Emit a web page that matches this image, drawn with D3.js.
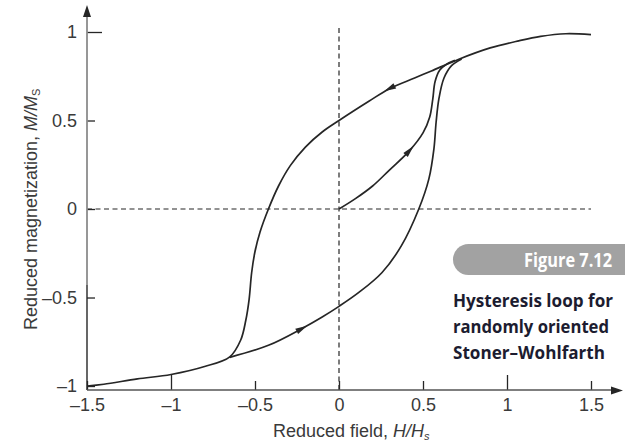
<!DOCTYPE html>
<html>
<head>
<meta charset="utf-8">
<script src="https://cdn.jsdelivr.net/npm/d3@7"></script>
<style>
  html, body { margin: 0; padding: 0; background: #fff; }
  svg { display: block; }
</style>
</head>
<body>
<svg id="chart" width="625" height="448"></svg>
<script>
// Reduced field H/Hs and reduced magnetization M/Ms along each branch of the loop.
// Descending branch: from positive saturation down to negative saturation.
const descendingBranch = [
  [1.5, 0.985], [1.35, 0.99], [1.2, 0.975], [1.07, 0.95], [0.9, 0.91],
  [0.71, 0.845], [0.55, 0.78], [0.45, 0.74], [0.3, 0.68], [0.18, 0.61],
  [0, 0.5], [-0.1, 0.435], [-0.2, 0.35], [-0.29, 0.245], [-0.36, 0.13],
  [-0.42, 0], [-0.47, -0.13], [-0.5, -0.24], [-0.52, -0.36], [-0.535, -0.51],
  [-0.555, -0.63], [-0.585, -0.74], [-0.65, -0.835], [-0.8, -0.89],
  [-1.0, -0.935], [-1.2, -0.96], [-1.4, -0.99], [-1.5, -1.0]
];
// Ascending branch: leaves the reversible part near -0.65 and rejoins near 0.73.
const ascendingBranch = [
  [-0.65, -0.838], [-0.42, -0.77], [-0.22, -0.675], [-0.1, -0.61], [0, -0.55],
  [0.12, -0.47], [0.255, -0.36], [0.37, -0.21], [0.475, 0], [0.535, 0.17],
  [0.565, 0.34], [0.578, 0.49], [0.595, 0.625], [0.625, 0.74], [0.67, 0.81],
  [0.73, 0.848]
];
// Initial magnetization curve from the demagnetized state.
const virginCurve = [
  [0, 0], [0.1, 0.06], [0.2, 0.13], [0.3, 0.22], [0.42, 0.33], [0.5, 0.43],
  [0.54, 0.52], [0.558, 0.62], [0.572, 0.72], [0.6, 0.785], [0.64, 0.818],
  [0.69, 0.84]
];

const xTicks = [-1.5, -1, -0.5, 0, 0.5, 1, 1.5];
const yTicks = [-1, -0.5, 0, 0.5, 1];

// Direction arrows: which branch, and the field value where the arrow sits.
const branchArrows = [
  { branch: "descending", H: 0.3 },
  { branch: "virgin", H: 0.42 },
  { branch: "ascending", H: -0.22 }
];

const captionTitle = "Figure 7.12";
const captionLines = ["Hysteresis loop for", "randomly oriented", "Stoner–Wohlfarth"];
const captionWidths = [160, 156, 152];

const svg = d3.select("#chart");
const ink = "#262626";
const labelInk = "#3a3a3a";
const sans = "'Liberation Sans', Arial, sans-serif";

const x = d3.scaleLinear().domain([-1.5, 1.5]).range([87, 591]);
const y = d3.scaleLinear().domain([-1.0225, 1]).range([390, 32]);

const fmt = d => (d < 0 ? "–" + Math.abs(d) : String(d));

// Dashed reference lines through the origin
svg.append("line")
  .attr("x1", x(-1.5)).attr("x2", x(1.5))
  .attr("y1", y(0)).attr("y2", y(0))
  .attr("stroke", ink).attr("stroke-width", 1.2)
  .attr("stroke-dasharray", "5,3.5");
svg.append("line")
  .attr("x1", x(0)).attr("x2", x(0))
  .attr("y1", y(-1.0225)).attr("y2", y(1.03))
  .attr("stroke", ink).attr("stroke-width", 1.2)
  .attr("stroke-dasharray", "5,3.5");

// X axis
const xAxis = svg.append("g")
  .attr("transform", `translate(0,${y.range()[0]})`)
  .call(d3.axisBottom(x).tickValues(xTicks).tickSize(-9).tickPadding(8).tickFormat(fmt));
xAxis.select(".domain").remove();
xAxis.selectAll(".tick line")
  .attr("y2", d => (Math.abs(d) === 1 ? -15 : -9))
  .attr("stroke", ink).attr("stroke-width", 1.3);
xAxis.selectAll(".tick text")
  .attr("font-family", sans)
  .attr("font-size", 18).attr("fill", labelInk);

// Y axis
const yAxis = svg.append("g")
  .attr("transform", `translate(${x.range()[0]},0)`)
  .call(d3.axisLeft(y).tickValues(yTicks).tickSize(-8).tickPadding(10).tickFormat(fmt));
yAxis.select(".domain").remove();
yAxis.selectAll(".tick line")
  .attr("x2", d => (d === 1 ? 15 : 8))
  .attr("stroke", ink).attr("stroke-width", 1.3);
yAxis.selectAll(".tick text")
  .attr("font-family", sans)
  .attr("font-size", 18).attr("fill", labelInk);

// Axis lines with arrowheads
const x0 = x.range()[0], yBase = y.range()[0];
svg.append("line")
  .attr("x1", x0).attr("x2", x0).attr("y1", yBase).attr("y2", y(-0.43))
  .attr("stroke", ink).attr("stroke-width", 1.4);
svg.append("line")
  .attr("x1", x0).attr("x2", x0).attr("y1", y(-0.43)).attr("y2", 14)
  .attr("stroke", "#8c8c8c").attr("stroke-width", 1.8);
svg.append("path")
  .attr("d", `M${x0},5 L${x0 - 4},17 L${x0 + 4},17 Z`)
  .attr("fill", ink);
svg.append("line")
  .attr("x1", x0).attr("x2", 614).attr("y1", yBase).attr("y2", yBase)
  .attr("stroke", "#555").attr("stroke-width", 1.4);
svg.append("path")
  .attr("d", `M623,${yBase + 0.5} L611,${yBase - 3.5} L611,${yBase + 4.5} Z`)
  .attr("fill", ink);

// Loop branches
const line = d3.line()
  .x(d => x(d[0])).y(d => y(d[1]))
  .curve(d3.curveCatmullRom.alpha(0.5));

const branches = { descending: descendingBranch, ascending: ascendingBranch, virgin: virginCurve };
const paths = {};
Object.entries(branches).forEach(([name, pts]) => {
  paths[name] = svg.append("path")
    .attr("d", line(pts))
    .attr("fill", "none")
    .attr("stroke", ink)
    .attr("stroke-width", 1.7)
    .attr("stroke-linejoin", "round");
});

// Arrowheads placed on the branches, pointing along the direction of travel
branchArrows.forEach(a => {
  const node = paths[a.branch].node();
  const total = node.getTotalLength();
  const tx = x(a.H);
  let best = 0, bestDist = Infinity;
  for (let l = 0; l <= total; l += 0.5) {
    const p = node.getPointAtLength(l);
    const dist = Math.abs(p.x - tx);
    if (dist < bestDist) { bestDist = dist; best = l; }
  }
  const p = node.getPointAtLength(best);
  const p1 = node.getPointAtLength(Math.max(0, best - 3));
  const p2 = node.getPointAtLength(Math.min(total, best + 3));
  const ang = Math.atan2(p2.y - p1.y, p2.x - p1.x) * 180 / Math.PI;
  svg.append("path")
    .attr("d", "M6,0 L-6,-3 L-6,3 Z")
    .attr("fill", ink)
    .attr("transform", `translate(${p.x},${p.y}) rotate(${ang})`);
});

// Axis titles
const xTitle = svg.append("text")
  .attr("x", 273).attr("y", 437)
  .attr("font-family", sans)
  .attr("font-size", 18).attr("fill", labelInk);
xTitle.append("tspan").text("Reduced field, ");
xTitle.append("tspan").attr("font-style", "italic").text("H/H");
xTitle.append("tspan").attr("font-style", "italic").attr("font-size", 11)
  .attr("dy", 3).text("s");

const yTitle = svg.append("text")
  .attr("transform", "translate(37,330) rotate(-90)")
  .attr("font-family", sans)
  .attr("font-size", 18).attr("fill", labelInk);
yTitle.append("tspan").text("Reduced magnetization, ");
yTitle.append("tspan").attr("font-style", "italic").text("M/M");
yTitle.append("tspan").attr("font-size", 11)
  .attr("dy", 3).text("S");

// Figure caption panel
svg.append("rect")
  .attr("x", 453).attr("y", 244).attr("width", 220).attr("height", 31)
  .attr("rx", 15.5).attr("fill", "#a2a2a2");
svg.append("text")
  .attr("x", 524).attr("y", 267)
  .attr("font-family", "'Open Sans', sans-serif").attr("font-weight", 700)
  .attr("font-size", 19).attr("fill", "#fff")
  .attr("textLength", 88).attr("lengthAdjust", "spacingAndGlyphs")
  .text(captionTitle);
svg.append("g").selectAll("text")
  .data(captionLines)
  .join("text")
  .attr("x", 453)
  .attr("y", (d, i) => 307 + i * 26)
  .attr("font-family", "'Open Sans', sans-serif").attr("font-weight", 700)
  .attr("font-size", 17).attr("fill", "#1c1c30")
  .attr("textLength", (d, i) => captionWidths[i])
  .attr("lengthAdjust", "spacingAndGlyphs")
  .text(d => d);
</script>
</body>
</html>
